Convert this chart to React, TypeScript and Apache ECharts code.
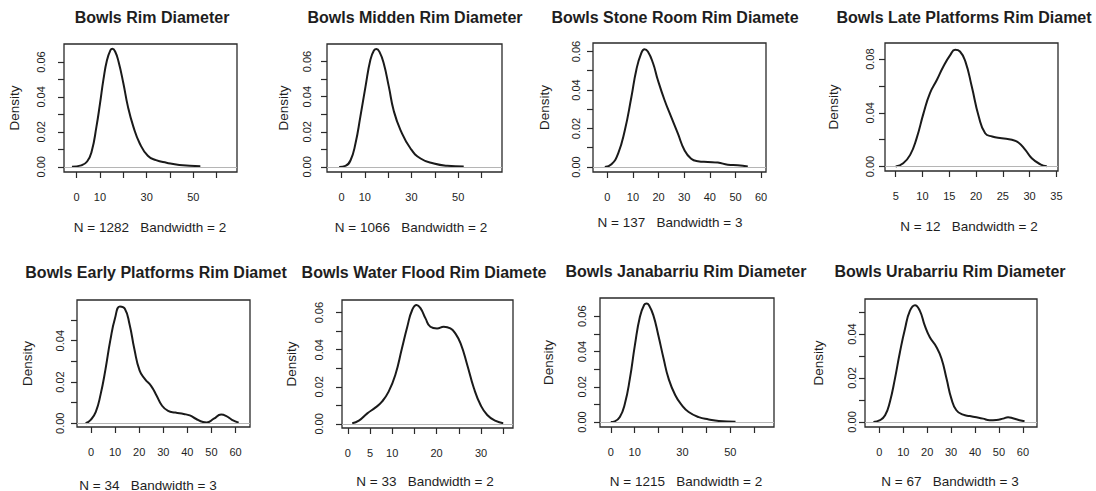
import React, { useEffect, useRef } from "react";
import * as echarts from "echarts";

// ---------- texts ----------
const titles = [
  "Bowls Rim Diameter",
  "Bowls Midden Rim Diameter",
  "Bowls Stone Room Rim Diamete",
  "Bowls Late Platforms Rim Diamet",
  "Bowls Early Platforms Rim Diamet",
  "Bowls Water Flood Rim Diamete",
  "Bowls Janabarriu Rim Diameter",
  "Bowls Urabarriu Rim Diameter",
];
const subLabels = [
  "N = 1282   Bandwidth = 2",
  "N = 1066   Bandwidth = 2",
  "N = 137   Bandwidth = 3",
  "N = 12   Bandwidth = 2",
  "N = 34   Bandwidth = 3",
  "N = 33   Bandwidth = 2",
  "N = 1215   Bandwidth = 2",
  "N = 67   Bandwidth = 3",
];
const yName = "Density";

// ---------- density curves ----------
const rimX = [-2, 2, 4.5, 6.5, 8.5, 10, 11.5, 13, 14.5, 15.3, 16.5, 18, 20, 22, 24.3, 27, 30.5, 34, 38.5, 44, 53];
const rimY = [0, 0.0008, 0.003, 0.009, 0.023, 0.036, 0.05, 0.061, 0.0668, 0.0676, 0.066, 0.06, 0.048, 0.0343, 0.023, 0.0135, 0.0063, 0.0038, 0.0023, 0.001, 0.0003];

const middenX = [-1, 1.7, 3.9, 6, 8.1, 10.3, 12.4, 13.9, 15, 16.3, 18.1, 20.3, 22.4, 25.3, 29.6, 33.9, 39.6, 45.3, 52.4];
const middenY = [0, 0.0006, 0.0038, 0.0133, 0.0286, 0.0457, 0.061, 0.0663, 0.0672, 0.0655, 0.059, 0.0457, 0.032, 0.021, 0.0105, 0.0048, 0.0019, 0.0006, 0.0002];

const stoneX = [-1, 1.6, 4.2, 6.8, 9.4, 11.3, 13.2, 14.5, 15.8, 17.8, 19.7, 22.3, 24.9, 27.5, 30.1, 32.7, 35.3, 39.2, 43.1, 47, 50.9, 54.8];
const stoneY = [0, 0.0014, 0.007, 0.019, 0.0365, 0.0504, 0.059, 0.0612, 0.06, 0.054, 0.0452, 0.0348, 0.026, 0.0174, 0.0087, 0.0043, 0.003, 0.0026, 0.0023, 0.0012, 0.0009, 0.0003];

const lateX = [5, 6.4, 7.7, 8.9, 10.2, 11.4, 12.7, 13.9, 15.2, 16.1, 17, 18, 19.2, 20.5, 21.7, 23, 24.8, 26.7, 27.9, 29.2, 30.4, 32, 33.2];
const lateY = [0, 0.0025, 0.0087, 0.021, 0.0398, 0.0547, 0.0646, 0.0745, 0.0832, 0.087, 0.0857, 0.0783, 0.0596, 0.0373, 0.0248, 0.0224, 0.0211, 0.0199, 0.0179, 0.0124, 0.0062, 0.0017, 0.0002];

const earlyX = [-2.2, 0, 2, 4, 6, 8, 10, 12, 14, 16, 18, 20.2, 22.5, 25, 27.2, 29.5, 32, 35, 38.5, 41, 43.5, 46.5, 48, 51, 54, 56, 58.5, 61.3];
const earlyY = [0, 0.0018, 0.0055, 0.014, 0.026, 0.04, 0.051, 0.0566, 0.0556, 0.048, 0.036, 0.0255, 0.0213, 0.018, 0.0135, 0.0085, 0.006, 0.0052, 0.0045, 0.0038, 0.0022, 0.0006, 0.0004, 0.0022, 0.0042, 0.0036, 0.0017, 0.0003];

const waterX = [1, 2.5, 4.4, 6.2, 7.7, 9.2, 10.7, 12.2, 13.4, 14.5, 15.5, 16.4, 17.5, 18.6, 20.1, 21.6, 23.1, 24.2, 25.4, 26.9, 28.4, 29.9, 31.4, 33.3, 35];
const waterY = [0.0004, 0.0018, 0.0057, 0.0088, 0.012, 0.0174, 0.0264, 0.0408, 0.0524, 0.0614, 0.0641, 0.0623, 0.0569, 0.0524, 0.0515, 0.0524, 0.0515, 0.0488, 0.0434, 0.0318, 0.0192, 0.0102, 0.0048, 0.0016, 0.0004];

const janaX = [0, 1.7, 3.8, 5.9, 8, 10.1, 12.2, 14, 15, 16, 17.8, 19.9, 22.1, 24.2, 27, 29.8, 32.6, 36.8, 41, 45.2, 52.2];
const janaY = [0, 0.0004, 0.0028, 0.0104, 0.0246, 0.0436, 0.0597, 0.0665, 0.0672, 0.0662, 0.0606, 0.0492, 0.036, 0.0246, 0.0152, 0.0095, 0.0057, 0.0028, 0.0015, 0.0006, 0.0002];

const uraX = [-2.5, 0.3, 2.4, 4.4, 6.5, 8.6, 10.7, 12.8, 14.9, 16.9, 19, 21.1, 23.9, 26, 28.1, 30.1, 32.2, 35, 37.8, 40.6, 43.3, 46.1, 48.9, 51.7, 53.8, 55.8, 58.6, 60.7];
const uraY = [0, 0.0008, 0.003, 0.0091, 0.0196, 0.0317, 0.0423, 0.0506, 0.0531, 0.0506, 0.0438, 0.0385, 0.034, 0.0287, 0.0196, 0.0106, 0.0053, 0.0033, 0.0027, 0.0021, 0.0015, 0.0008, 0.0009, 0.0015, 0.0021, 0.0017, 0.0008, 0.0003];

const curvesX = [rimX, middenX, stoneX, lateX, earlyX, waterX, janaX, uraX];
const curvesY = [rimY, middenY, stoneY, lateY, earlyY, waterY, janaY, uraY];

// ---------- ticks ----------
const ticks0to60 = [0, 10, 20, 30, 40, 50, 60];
const labels0to60sparse = [0, 10, 30, 50];
const ticks5to35 = [5, 10, 15, 20, 25, 30, 35];
const ticks0to35 = [0, 5, 10, 15, 20, 25, 30, 35];
const labels0to35sparse = [0, 5, 10, 20, 30];
const xTicks = [ticks0to60, ticks0to60, ticks0to60, ticks5to35, ticks0to60, ticks0to35, ticks0to60, ticks0to60];
const xTickLabels = [labels0to60sparse, labels0to60sparse, ticks0to60, ticks5to35, ticks0to60, labels0to35sparse, labels0to60sparse, ticks0to60];

const yTicks06 = [0, 0.01, 0.02, 0.03, 0.04, 0.05, 0.06];
const yLabels06 = [0, 0.02, 0.04, 0.06];
const yTicks08 = [0, 0.02, 0.04, 0.06, 0.08];
const yLabels08 = [0, 0.04, 0.08];
const yTicks05 = [0, 0.01, 0.02, 0.03, 0.04, 0.05];
const yLabels05 = [0, 0.02, 0.04];
const yTicks = [yTicks06, yTicks06, yTicks06, yTicks08, yTicks05, yTicks06, yTicks06, yTicks05];
const yTickLabels = [yLabels06, yLabels06, yLabels06, yLabels08, yLabels05, yLabels06, yLabels06, yLabels05];

// ---------- layout (pixels) ----------
const boxes = [
  [64, 44, 173, 128],
  [327, 44, 175, 128],
  [593, 43, 173, 129],
  [885, 43, 173, 128],
  [77, 300, 173, 127],
  [342, 300, 171, 128],
  [600, 298, 174, 129],
  [865, 299, 172, 128],
];
const xRanges = [
  [-5.4, 68.7],
  [-6.2, 68.8],
  [-5.6, 61.9],
  [3.0, 35.3],
  [-5.8, 66.0],
  [-1.3, 37.2],
  [-4.5, 68.3],
  [-6.0, 65.9],
];
const yRanges = [
  [-0.003, 0.0703],
  [-0.0029, 0.07],
  [-0.0026, 0.0644],
  [-0.0033, 0.092],
  [-0.0018, 0.0597],
  [-0.0022, 0.0668],
  [-0.0028, 0.0703],
  [-0.0023, 0.0559],
];
const yLabelMargins = [18, 15, 12, 10, 12, 18, 13, 8];
const densityGaps = [43, 37, 42, 45, 43, 44, 45, 40];
const titleCenters = [
  [152, 17],
  [415, 17],
  [675, 17],
  [964, 17],
  [156, 272],
  [424, 272],
  [686, 271],
  [950, 271],
];
const subCenters = [
  [150, 227.5],
  [411, 227],
  [670, 222.5],
  [969, 226.7],
  [148, 485],
  [425, 481.7],
  [686, 481.7],
  [950, 481.7],
];

const FONT = "'Liberation Sans', Arial, Helvetica, sans-serif";
const INK = "#1e1e1e";

function buildOption() {
  const idx = [0, 1, 2, 3, 4, 5, 6, 7];
  return {
    animation: false,
    backgroundColor: "#ffffff",
    grid: idx.map((i) => ({
      left: boxes[i][0],
      top: boxes[i][1],
      width: boxes[i][2],
      height: boxes[i][3],
      show: true,
      borderColor: "#2a2a2a",
      borderWidth: 1.3,
      backgroundColor: "transparent",
    })),
    xAxis: idx.map((i) => ({
      gridIndex: i,
      type: "value",
      position: "bottom",
      min: xRanges[i][0],
      max: xRanges[i][1],
      axisLine: { show: false, onZero: false },
      splitLine: { show: false },
      axisTick: {
        show: true,
        inside: false,
        customValues: xTicks[i],
        length: 6,
        lineStyle: { color: "#2a2a2a", width: 1.2 },
      },
      axisLabel: {
        customValues: xTickLabels[i],
        margin: 19,
        fontSize: 11,
        color: INK,
        fontFamily: FONT,
        formatter: (v: number) => String(v),
      },
    })),
    yAxis: idx.map((i) => ({
      gridIndex: i,
      type: "value",
      position: "left",
      min: yRanges[i][0],
      max: yRanges[i][1],
      name: yName,
      nameLocation: "middle",
      nameRotate: 90,
      nameGap: densityGaps[i],
      nameTextStyle: { fontSize: 13.5, color: INK, fontFamily: FONT },
      axisLine: { show: false, onZero: false },
      splitLine: { show: false },
      axisTick: {
        show: true,
        inside: false,
        customValues: yTicks[i],
        length: 6,
        lineStyle: { color: "#2a2a2a", width: 1.2 },
      },
      axisLabel: {
        customValues: yTickLabels[i],
        rotate: 90,
        margin: yLabelMargins[i],
        fontSize: 11,
        color: INK,
        fontFamily: FONT,
        formatter: (v: number) => v.toFixed(2),
      },
    })),
    series: idx.map((i) => ({
      type: "line",
      xAxisIndex: i,
      yAxisIndex: i,
      data: curvesX[i].map((x, k) => [x, curvesY[i][k]]),
      smooth: 0.5,
      showSymbol: false,
      symbol: "none",
      lineStyle: { color: "#1a1a1a", width: 2 },
      markLine: {
        silent: true,
        symbol: "none",
        label: { show: false },
        lineStyle: { color: "#b5b5b5", width: 1, type: "solid" },
        data: [{ yAxis: 0 }],
      },
    })),
    graphic: [
      ...idx.map((i) => ({
        type: "text",
        x: titleCenters[i][0],
        y: titleCenters[i][1],
        style: {
          text: titles[i],
          fill: INK,
          font: `bold 16px ${FONT}`,
          textAlign: "center",
          textVerticalAlign: "middle",
        },
      })),
      ...idx.map((i) => ({
        type: "text",
        x: subCenters[i][0],
        y: subCenters[i][1],
        style: {
          text: subLabels[i],
          fill: INK,
          font: `13.5px ${FONT}`,
          textAlign: "center",
          textVerticalAlign: "middle",
        },
      })),
    ],
  };
}

export default function App() {
  const ref = useRef<HTMLDivElement | null>(null);
  useEffect(() => {
    if (!ref.current) return;
    const chart = echarts.init(ref.current, null, { renderer: "svg" });
    chart.setOption(buildOption() as any);
    return () => chart.dispose();
  }, []);
  return (
    <div
      ref={ref}
      style={{ position: "absolute", left: 0, top: 0, width: 1096, height: 491, background: "#fff" }}
    />
  );
}
